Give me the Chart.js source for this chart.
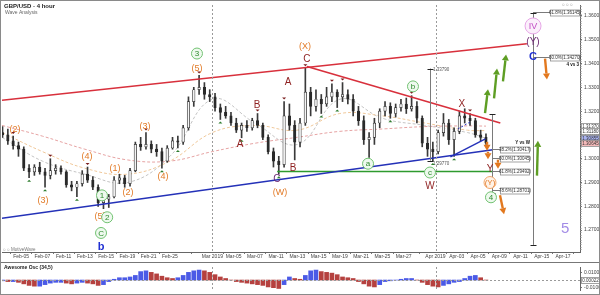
<!DOCTYPE html>
<html>
<head>
<meta charset="utf-8">
<title>GBP/USD - 4 hour</title>
<script src="https://cdn.jsdelivr.net/npm/chart.js@4.4.1/dist/chart.umd.min.js"></script>
<style>
  html, body { margin: 0; padding: 0; background: #fff; }
  #wrap { position: relative; width: 600px; height: 295px; overflow: hidden; }
  #price { position: absolute; left: 0; top: 0; }
  #osc { position: absolute; left: 0; top: 262px; }
  #frame { position: absolute; left: 0; top: 0; width: 600px; height: 295px; box-sizing: border-box; border: 1px solid #8a8a8a; pointer-events: none; }
</style>
</head>
<body>
<div id="wrap">
  <canvas id="price" width="600" height="262"></canvas>
  <canvas id="osc" width="600" height="33"></canvas>
  <div id="frame"></div>
</div>
<script>
//
// GBP/USD 4 hour - wave analysis
//

// time axis (trading day index, 0 = Feb 01)
var dayTicks = [2, 4, 6, 8, 10, 12, 14, 16, 20, 22, 24, 26, 28, 30, 32, 34, 36, 38, 41, 43, 45, 47, 49, 51, 53];
var dayLabels = ["Feb-05", "Feb-07", "Feb-11", "Feb-13", "Feb-15", "Feb-19", "Feb-21", "Feb-25", "Mar 2019", "Mar-05", "Mar-07", "Mar-11", "Mar-13", "Mar-15", "Mar-19", "Mar-21", "Mar-25", "Mar-27", "Apr 2019", "Apr-03", "Apr-05", "Apr-09", "Apr-11", "Apr-15", "Apr-17"];
var monthStarts = [20, 41];

// price axis
var priceTicks = [1.27, 1.28, 1.29, 1.30, 1.31, 1.32, 1.33, 1.34, 1.35, 1.36];
var oscTicks = [-0.01, 0.01];

// half-day candles
var candleOpen = [
  1.3110, 1.3100, 1.3075, 1.3055, 1.3040, 1.2960, 1.2945, 1.2965, 1.2945, 1.2930,
  1.2950, 1.2960, 1.2945, 1.2890, 1.2880, 1.2895, 1.2935, 1.2910, 1.2880, 1.2815,
  1.2830, 1.2840, 1.2910, 1.2920, 1.2895, 1.2950, 1.3060, 1.3050, 1.3060, 1.3040,
  1.3030, 1.2990, 1.3045, 1.3075, 1.3070, 1.3130, 1.3240, 1.3290, 1.3300, 1.3270,
  1.3260, 1.3215, 1.3195, 1.3180, 1.3150, 1.3120, 1.3140, 1.3130, 1.3160, 1.3140,
  1.3090, 1.3030, 1.2990, 1.2975, 1.3180, 1.3140, 1.3070, 1.3150, 1.3280, 1.3220,
  1.3250, 1.3230, 1.3260, 1.3280, 1.3260, 1.3270, 1.3250, 1.3200, 1.3160, 1.3080,
  1.3090, 1.3150, 1.3200, 1.3220, 1.3190, 1.3215, 1.3230, 1.3210, 1.3220, 1.3170,
  1.3065, 1.3040, 1.3030, 1.3110, 1.3150, 1.3080, 1.3115, 1.3180, 1.3170, 1.3160,
  1.3100, 1.3090
];
var candleHigh = [
  1.3135, 1.3125, 1.3095, 1.3070, 1.3050, 1.2975, 1.2975, 1.2985, 1.2960, 1.3000,
  1.2975, 1.2970, 1.2950, 1.2905, 1.2905, 1.2950, 1.2965, 1.2925, 1.2890, 1.2840,
  1.2850, 1.2925, 1.2935, 1.2930, 1.2960, 1.3070, 1.3090, 1.3110, 1.3075, 1.3060,
  1.3045, 1.3055, 1.3090, 1.3095, 1.3140, 1.3260, 1.3300, 1.3350, 1.3320, 1.3290,
  1.3275, 1.3230, 1.3220, 1.3195, 1.3170, 1.3150, 1.3160, 1.3170, 1.3190, 1.3150,
  1.3100, 1.3045, 1.3010, 1.3240, 1.3230, 1.3160, 1.3170, 1.3380, 1.3300, 1.3290,
  1.3270, 1.3300, 1.3315, 1.3290, 1.3320, 1.3290, 1.3270, 1.3220, 1.3180, 1.3110,
  1.3170, 1.3210, 1.3240, 1.3235, 1.3230, 1.3250, 1.3255, 1.3265, 1.3240, 1.3180,
  1.3090, 1.3070, 1.3120, 1.3190, 1.3165, 1.3130, 1.3200, 1.3210, 1.3190, 1.3170,
  1.3120, 1.3105
];
var candleLow = [
  1.3090, 1.3060, 1.3040, 1.3010, 1.2950, 1.2920, 1.2930, 1.2935, 1.2880, 1.2915,
  1.2935, 1.2935, 1.2880, 1.2865, 1.2840, 1.2885, 1.2900, 1.2870, 1.2800, 1.2790,
  1.2795, 1.2835, 1.2895, 1.2880, 1.2885, 1.2945, 1.3035, 1.3040, 1.3025, 1.3010,
  1.2960, 1.2985, 1.3040, 1.3045, 1.3060, 1.3120, 1.3220, 1.3270, 1.3250, 1.3240,
  1.3200, 1.3165, 1.3170, 1.3140, 1.3110, 1.3088, 1.3115, 1.3120, 1.3130, 1.3080,
  1.3020, 1.2965, 1.2935, 1.2965, 1.3120, 1.2995, 1.3050, 1.3140, 1.3180, 1.3200,
  1.3190, 1.3220, 1.3240, 1.3215, 1.3240, 1.3230, 1.3180, 1.3140, 1.3060, 1.3005,
  1.3060, 1.3130, 1.3180, 1.3170, 1.3175, 1.3200, 1.3190, 1.3200, 1.3150, 1.3050,
  1.3010, 1.2990, 1.3020, 1.3095, 1.3060, 1.3010, 1.3105, 1.3150, 1.3140, 1.3090,
  1.3075, 1.3060
];
var candleClose = [
  1.3100, 1.3075, 1.3055, 1.3040, 1.2960, 1.2945, 1.2965, 1.2945, 1.2930, 1.2950,
  1.2960, 1.2945, 1.2890, 1.2880, 1.2895, 1.2935, 1.2910, 1.2880, 1.2815, 1.2830,
  1.2840, 1.2910, 1.2920, 1.2895, 1.2950, 1.3060, 1.3050, 1.3060, 1.3040, 1.3030,
  1.2990, 1.3045, 1.3075, 1.3070, 1.3130, 1.3240, 1.3290, 1.3300, 1.3270, 1.3260,
  1.3215, 1.3195, 1.3180, 1.3150, 1.3120, 1.3140, 1.3130, 1.3160, 1.3140, 1.3090,
  1.3030, 1.2990, 1.2975, 1.3180, 1.3140, 1.3070, 1.3150, 1.3280, 1.3220, 1.3250,
  1.3230, 1.3260, 1.3280, 1.3260, 1.3270, 1.3250, 1.3200, 1.3160, 1.3080, 1.3090,
  1.3150, 1.3200, 1.3220, 1.3190, 1.3215, 1.3230, 1.3210, 1.3220, 1.3170, 1.3065,
  1.3040, 1.3030, 1.3110, 1.3150, 1.3080, 1.3115, 1.3180, 1.3170, 1.3160, 1.3100,
  1.3090, 1.3065
];

// awesome oscillator (34,5), one value per candle
var aoValues = [
  -0.001, -0.002, -0.002, -0.003, -0.005, -0.007, -0.008, -0.008, -0.006, -0.004,
  -0.003, -0.003, -0.004, -0.005, -0.004, -0.003, -0.004, -0.005, -0.007, -0.006,
  -0.002, 0.001, 0.003, 0.003, 0.004, 0.006, 0.011, 0.012, 0.010, 0.008,
  0.005, 0.003, 0.002, 0.003, 0.006, 0.010, 0.012, 0.013, 0.012, 0.010,
  0.007, 0.004, 0.002, 0.000, -0.002, -0.003, -0.004, -0.005, -0.006, -0.007,
  -0.009, -0.010, -0.011, -0.006, 0.004, 0.002, 0.001, 0.006, 0.012, 0.013,
  0.011, 0.010, 0.009, 0.007, 0.004, 0.003, 0.002, -0.002, -0.005, -0.008,
  -0.009, -0.006, -0.002, -0.001, 0.000, 0.001, 0.002, 0.002, 0.000, -0.003,
  -0.006, -0.008, -0.009, -0.007, -0.005, -0.003, -0.002, 0.002, 0.005, 0.006,
  0.003, 0.000
];
var aoLast = "0.00022";

// moving averages
var maDays = [0.2, 4, 8, 12, 16, 20, 24, 28, 32, 36, 40, 44, 45.75];
var maSlow = [1.3140, 1.3095, 1.3040, 1.2995, 1.2990, 1.3030, 1.3065, 1.3090, 1.3115, 1.3125, 1.3135, 1.3138, 1.3137];
var maMid = [1.3110, 1.3030, 1.2960, 1.2935, 1.2990, 1.3110, 1.3140, 1.3120, 1.3190, 1.3180, 1.3150, 1.3120, 1.3118];
var maFast = [1.3090, 1.2990, 1.2935, 1.2900, 1.3010, 1.3250, 1.3150, 1.3060, 1.3250, 1.3170, 1.3140, 1.3110, 1.3086];
var lastValues = [1.3137, 1.3118, 1.30855, 1.30645];
var lastLabels = ["1.31370", "1.31180", "1.30855", "1.30645"];

// trend lines
var redUpper = [[0.2, 1.3246], [49.6, 1.3483]];
var redLower = [[28.9, 1.3388], [47.1, 1.3150]];
var blueLong = [[0.2, 1.2750], [46.4, 1.3038]];
var blueShort = [[42.4, 1.3008], [45.7, 1.3083]];
var blueDash = [[43.1, 1.3125], [44.4, 1.3158]];
var greenFlat = [[26.1, 1.2946], [46.4, 1.2946]];

// wave labels
var waveText = ["(2)", "(3)", "(4)", "(5)", "1", "2", "C", "b", "(1)", "(2)", "(3)", "(4)", "(5)", "3", "A", "B", "C", "(W)", "A", "B", "C", "(X)", "a", "b", "c", "W", "X", "Y", "(Y)", "4", "IV", "(Y)", "C", "5"];
var waveDay = [1.42, 4.06, 8.2, 9.42, 9.61, 10.1, 9.52, 9.52, 10.84, 12.06, 13.66, 15.35, 18.55, 18.55, 22.6, 24.2, 26.08, 26.36, 27.13, 27.59, 28.9, 28.72, 34.65, 38.88, 40.48, 40.48, 43.49, 46.13, 46.13, 46.22, 50.18, 50.18, 50.18, 53.2];
var wavePrice = [1.3125, 1.2825, 1.3013, 1.2758, 1.2846, 1.2754, 1.2688, 1.2633, 1.2963, 1.2858, 1.3138, 1.2929, 1.3383, 1.3442, 1.3063, 1.3225, 1.2917, 1.2858, 1.3325, 1.2963, 1.3421, 1.3475, 1.2979, 1.3304, 1.2942, 1.2888, 1.3229, 1.2958, 1.2900, 1.2838, 1.3558, 1.3492, 1.3429, 1.2708];
var waveKind = ["o", "o", "o", "o", "g", "g", "g", "blue", "o", "o", "o", "o", "o", "g", "r", "r", "p", "o", "r", "r", "r", "o", "g", "g", "g", "r", "r", "r", "oc", "g", "iv", "p", "blue", "lav"];

// swing markers (candle index)
var swingHighIdx = [2, 9, 16, 27, 37, 48, 53, 57, 62, 64, 77, 88];
var swingLowIdx = [5, 8, 14, 30, 33, 41, 45, 52, 60, 63, 69, 73, 81, 85];

// fibonacci tools
var fibDay = [40.48, 46.32, 50.18];
var fibTop = [1.3379, 1.3188, 1.3612];
var fibBottom = [1.2992, 1.2855, 1.2638];
var fibLevelTool = [1, 1, 1, 1, 2, 2];
var fibLevelPrice = [1.30417, 1.30045, 1.29492, 1.28701, 1.36145, 1.34270];
var fibLevelText = ["38.2%(1.30417)", "50.0%(1.30045)", "61.8%(1.29492)", "78.6%(1.28701)", "61.8%(1.36145)", "50.0%(1.34270)"];

// arrows [day0, price0, day1, price1]
var upArrows = [[45.66, 1.3192, 45.94, 1.3292], [46.51, 1.3254, 46.79, 1.3379], [47.35, 1.3325, 47.64, 1.3438], [50.55, 1.2929, 50.64, 1.3075]];
var downArrows = [[51.31, 1.3421, 51.49, 1.3333], [45.85, 1.3071, 45.85, 1.3033], [45.94, 1.3029, 45.94, 1.2998], [46.88, 1.2996, 46.88, 1.2958], [47.07, 1.2846, 47.45, 1.2767]];

var FONT = "'Liberation Sans', Arial, sans-serif";
var waveStyle = {
  o: { color: "#e27a26", size: 9 },
  oc: { color: "#e27a26", size: 8, ring: "#f2a66a", fill: "#fff3e8", r: 6 },
  g: { color: "#2c8a2c", size: 8, ring: "#72c272", fill: "#eef9ee", r: 5.5 },
  r: { color: "#8e1f1f", size: 10 },
  p: { color: "#6e2b74", size: 10 },
  blue: { color: "#1f2fd2", size: 11, bold: true },
  iv: { color: "#c24cc4", size: 9, ring: "#e6a6e6", fill: "#fbeffb", r: 8 },
  lav: { color: "#a38ce6", size: 15 }
};

function toPoints(arr) {
  return arr.map(function (p) { return { x: p[0], y: p[1] }; });
}

var candleDay = candleOpen.map(function (v, i) { return i / 2 + 0.25; });
var wicks = candleDay.map(function (d, i) { return { x: d, y: [candleLow[i], candleHigh[i]] }; });
var bodies = candleDay.map(function (d, i) { return { x: d, y: [candleOpen[i], candleClose[i]] }; });
var bodyColors = candleClose.map(function (c, i) { return c >= candleOpen[i] ? "#f4f4f4" : "#2a2a2a"; });

function maPoints(vals) {
  return vals.map(function (v, i) { return { x: maDays[i], y: v }; });
}

function arrow(ctx, x0, y0, x1, y1, color) {
  var a = Math.atan2(y1 - y0, x1 - x0), hl = 6, hw = 3.5;
  var bx = x1 - hl * Math.cos(a), by = y1 - hl * Math.sin(a);
  ctx.strokeStyle = color;
  ctx.lineWidth = 2.4;
  ctx.beginPath();
  ctx.moveTo(x0, y0);
  ctx.lineTo(bx, by);
  ctx.stroke();
  ctx.fillStyle = color;
  ctx.beginPath();
  ctx.moveTo(x1, y1);
  ctx.lineTo(bx + hw * Math.sin(a), by - hw * Math.cos(a));
  ctx.lineTo(bx - hw * Math.sin(a), by + hw * Math.cos(a));
  ctx.closePath();
  ctx.fill();
}

function box(ctx, text, x, y, w, fill) {
  ctx.fillStyle = fill || "#ffffff";
  ctx.strokeStyle = "#8c8c8c";
  ctx.lineWidth = 0.8;
  ctx.fillRect(x, y - 3, w, 6);
  ctx.strokeRect(x + 0.5, y - 3 + 0.5, w - 1, 6);
  ctx.fillStyle = "#333";
  ctx.font = "4.5px " + FONT;
  ctx.textAlign = "center";
  ctx.textBaseline = "middle";
  ctx.fillText(text, x + w / 2, y + 0.5);
}

// Draws the wave labels, tools and texts
var priceOverlay = {
  id: "priceOverlay",
  afterDraw: function (chart) {
    var ctx = chart.ctx, xs = chart.scales.x, ys = chart.scales.y, area = chart.chartArea;
    var X = function (d) { return xs.getPixelForValue(d); };
    var Y = function (p) { return ys.getPixelForValue(p); };
    ctx.save();

    // month separators
    ctx.strokeStyle = "#9a9a9a";
    ctx.lineWidth = 1;
    ctx.setLineDash([2, 2]);
    monthStarts.forEach(function (d) {
      ctx.beginPath();
      ctx.moveTo(Math.round(X(d)) + 0.5, area.top);
      ctx.lineTo(Math.round(X(d)) + 0.5, area.bottom);
      ctx.stroke();
    });
    ctx.setLineDash([]);

    // minor ticks on price axis
    ctx.strokeStyle = "#888";
    for (var p = 1.262; p < 1.364; p += 0.001) {
      var yy = Math.round(Y(p)) + 0.5;
      ctx.beginPath();
      ctx.moveTo(area.right, yy);
      ctx.lineTo(area.right + 1.5, yy);
      ctx.stroke();
    }

    // fibonacci verticals
    fibDay.forEach(function (d, i) {
      var x = Math.round(X(d)) + 0.5;
      ctx.strokeStyle = "#7a7a7a";
      ctx.lineWidth = 1;
      ctx.beginPath();
      ctx.moveTo(x, Y(fibTop[i]));
      ctx.lineTo(x, Y(fibBottom[i]));
      ctx.stroke();
      ctx.strokeStyle = "#222";
      [fibTop[i], fibBottom[i]].forEach(function (v) {
        ctx.beginPath();
        ctx.moveTo(x - 3, Math.round(Y(v)) + 0.5);
        ctx.lineTo(x + 3, Math.round(Y(v)) + 0.5);
        ctx.stroke();
      });
    });
    fibLevelPrice.forEach(function (v, i) {
      var x = X(fibDay[fibLevelTool[i]]), y = Math.round(Y(v)) + 0.5;
      var bx = fibLevelTool[i] === 2 ? x + 17 : x + 8;
      ctx.strokeStyle = "#7a7a7a";
      ctx.lineWidth = 1;
      ctx.beginPath();
      ctx.moveTo(x, y);
      ctx.lineTo(bx, y);
      ctx.stroke();
      box(ctx, fibLevelText[i], bx, y, 30);
    });
    ctx.fillStyle = "#555";
    ctx.font = "4.5px " + FONT;
    ctx.textAlign = "left";
    ctx.fillText(fibTop[0].toFixed(5), X(fibDay[0]) + 3, Y(fibTop[0]) + 1);
    ctx.fillText("1.29770", X(fibDay[0]) + 3, Y(fibBottom[0]) + 3);
    ctx.fillStyle = "#111";
    ctx.font = "bold 4.5px " + FONT;
    ctx.textAlign = "right";
    ctx.fillText("Y vs W", X(fibDay[1]) + 38, Y(fibLevelPrice[0]) - 6);
    ctx.fillText("4 vs 3", X(fibDay[2]) + 46, Y(fibLevelPrice[5]) - 5 + 13);

    // swing markers
    swingHighIdx.forEach(function (i) {
      var x = X(candleDay[i]), y = Y(candleHigh[i]) - 2;
      ctx.fillStyle = "#7a1c1c";
      ctx.beginPath();
      ctx.moveTo(x - 2, y - 2);
      ctx.lineTo(x + 2, y - 2);
      ctx.lineTo(x, y);
      ctx.closePath();
      ctx.fill();
    });
    swingLowIdx.forEach(function (i) {
      var x = X(candleDay[i]), y = Y(candleLow[i]) + 2;
      ctx.fillStyle = "#2e7d2e";
      ctx.beginPath();
      ctx.moveTo(x - 2, y + 2);
      ctx.lineTo(x + 2, y + 2);
      ctx.lineTo(x, y);
      ctx.closePath();
      ctx.fill();
    });

    // arrows
    upArrows.forEach(function (a) { arrow(ctx, X(a[0]), Y(a[1]), X(a[2]), Y(a[3]), "#5e9e24"); });
    downArrows.forEach(function (a) { arrow(ctx, X(a[0]), Y(a[1]), X(a[2]), Y(a[3]), "#e2781e"); });

    // wave labels
    ctx.textAlign = "center";
    ctx.textBaseline = "middle";
    waveText.forEach(function (t, i) {
      var st = waveStyle[waveKind[i]], x = X(waveDay[i]), y = Y(wavePrice[i]);
      if (st.ring) {
        ctx.fillStyle = st.fill;
        ctx.strokeStyle = st.ring;
        ctx.lineWidth = 1;
        ctx.beginPath();
        ctx.arc(x, y, st.r, 0, Math.PI * 2);
        ctx.fill();
        ctx.stroke();
      }
      ctx.fillStyle = st.color;
      ctx.font = (st.bold ? "bold " : "") + st.size + "px " + FONT;
      ctx.fillText(t, x, y + 0.5);
    });

    // last values on the price axis
    var lastFill = ["#ffffff", "#ffffff", "#aab3f0", "#f3b9b9"];
    lastValues.forEach(function (v, i) {
      box(ctx, lastLabels[i], area.right + 1, Math.round(Y(v)), 19, lastFill[i]);
    });

    // titles
    ctx.textAlign = "left";
    ctx.textBaseline = "alphabetic";
    ctx.fillStyle = "#222";
    ctx.font = "bold 6px " + FONT;
    ctx.fillText("GBP/USD - 4 hour", 4, 8);
    ctx.fillStyle = "#666";
    ctx.font = "5px " + FONT;
    ctx.fillText("Wave Analysis", 5, 14);
    ctx.fillStyle = "#777";
    ctx.font = "4.5px " + FONT;
    ctx.fillText("\u25CB \u25CB MotiveWave", 3, area.bottom - 1);
    ctx.fillText("\u25CB \u25CB \u25CB", area.right - 18, 6);
    ctx.restore();
  }
};

var priceChart = new Chart(document.getElementById("price"), {
  type: "bar",
  data: {
    datasets: [
      { type: "line", data: toPoints(redUpper), borderColor: "#d8303c", borderWidth: 1.6, pointRadius: 0, order: 1 },
      { type: "line", data: toPoints(redLower), borderColor: "#d8303c", borderWidth: 1.6, pointRadius: 0, order: 1 },
      { type: "line", data: toPoints(blueLong), borderColor: "#2431b8", borderWidth: 1.6, pointRadius: 0, order: 1 },
      { type: "line", data: toPoints(blueShort), borderColor: "#2431b8", borderWidth: 1.4, pointRadius: 0, order: 1 },
      { type: "line", data: toPoints(blueDash), borderColor: "#2431b8", borderWidth: 1, borderDash: [2, 2], pointRadius: 0, order: 1 },
      { type: "line", data: toPoints(greenFlat), borderColor: "#2e9a2e", borderWidth: 1.6, pointRadius: 0, order: 1 },
      { data: bodies, backgroundColor: bodyColors, borderColor: "#2a2a2a", borderWidth: 0.7, borderSkipped: false, barThickness: 2.5, grouped: false, order: 3 },
      { data: wicks, backgroundColor: "#3a3a3a", barThickness: 1, grouped: false, order: 4 },
      { type: "line", data: maPoints(maSlow), borderColor: "#e6a3a3", borderWidth: 1, borderDash: [3, 2], pointRadius: 0, tension: 0.4, order: 6 },
      { type: "line", data: maPoints(maMid), borderColor: "#f0c89a", borderWidth: 1, borderDash: [3, 2], pointRadius: 0, tension: 0.4, order: 6 },
      { type: "line", data: maPoints(maFast), borderColor: "#c4c4c4", borderWidth: 1, borderDash: [3, 2], pointRadius: 0, tension: 0.4, order: 6 }
    ]
  },
  options: {
    responsive: false,
    animation: false,
    layout: { padding: { left: 2, top: 3, right: 0, bottom: 0 } },
    plugins: { legend: { display: false }, tooltip: { enabled: false } },
    scales: {
      x: {
        type: "linear", min: 0.2, max: 54.6, offset: false,
        afterFit: function (s) { s.height = 10; },
        afterBuildTicks: function (s) { s.ticks = dayTicks.map(function (v) { return { value: v }; }); },
        ticks: { autoSkip: false, maxRotation: 0, padding: 0, color: "#444", font: { size: 5, family: FONT },
          callback: function (v, i) { return dayLabels[i]; } },
        grid: { drawOnChartArea: false, tickLength: 2, color: "#777" },
        border: { color: "#666" }
      },
      y: {
        position: "right", min: 1.2608, max: 1.3646,
        afterFit: function (s) { s.width = 20; },
        afterBuildTicks: function (s) { s.ticks = priceTicks.map(function (v) { return { value: v }; }); },
        ticks: { padding: 2, color: "#444", font: { size: 5, family: FONT },
          callback: function (v) { return v.toFixed(5); } },
        grid: { drawOnChartArea: false, tickLength: 2, color: "#777" },
        border: { color: "#666" }
      }
    }
  },
  plugins: [priceOverlay]
});

// Oscillator panel
var aoColors = aoValues.map(function (v, i) { return i > 0 && v < aoValues[i - 1] ? "#b5413f" : "#4b5ae6"; });

var oscOverlay = {
  id: "oscOverlay",
  afterDraw: function (chart) {
    var ctx = chart.ctx, xs = chart.scales.x, ys = chart.scales.y, area = chart.chartArea;
    ctx.save();
    ctx.strokeStyle = "#777";
    ctx.lineWidth = 1;
    ctx.beginPath();
    ctx.moveTo(0, 0.5);
    ctx.lineTo(600, 0.5);
    ctx.stroke();
    ctx.strokeStyle = "#9a9a9a";
    ctx.setLineDash([2, 2]);
    var y0 = Math.round(ys.getPixelForValue(0)) + 0.5;
    ctx.beginPath();
    ctx.moveTo(area.left, y0);
    ctx.lineTo(area.right, y0);
    ctx.stroke();
    monthStarts.forEach(function (d) {
      var x = Math.round(xs.getPixelForValue(d)) + 0.5;
      ctx.beginPath();
      ctx.moveTo(x, area.top);
      ctx.lineTo(x, area.bottom);
      ctx.stroke();
    });
    ctx.setLineDash([]);
    box(ctx, aoLast, area.right + 1, Math.round(ys.getPixelForValue(0)), 19, "#ffffff");
    ctx.fillStyle = "#222";
    ctx.font = "bold 5px " + FONT;
    ctx.textAlign = "left";
    ctx.textBaseline = "alphabetic";
    ctx.fillText("Awesome Osc (34,5)", 4, 7);
    ctx.restore();
  }
};

var oscChart = new Chart(document.getElementById("osc"), {
  type: "bar",
  data: {
    datasets: [
      { data: aoValues.map(function (v, i) { return { x: candleDay[i], y: v }; }), backgroundColor: aoColors, barThickness: 4 }
    ]
  },
  options: {
    responsive: false,
    animation: false,
    layout: { padding: { left: 2, top: 1, right: 0, bottom: 2 } },
    plugins: { legend: { display: false }, tooltip: { enabled: false } },
    scales: {
      x: { type: "linear", min: 0.2, max: 54.6, offset: false, display: false },
      y: {
        position: "right", min: -0.013, max: 0.017,
        afterFit: function (s) { s.width = 20; },
        afterBuildTicks: function (s) { s.ticks = oscTicks.map(function (v) { return { value: v }; }); },
        ticks: { padding: 2, color: "#444", font: { size: 5, family: FONT },
          callback: function (v) { return v.toFixed(5); } },
        grid: { drawOnChartArea: false, tickLength: 2, color: "#777" },
        border: { color: "#666" }
      }
    }
  },
  plugins: [oscOverlay]
});
</script>
</body>
</html>
